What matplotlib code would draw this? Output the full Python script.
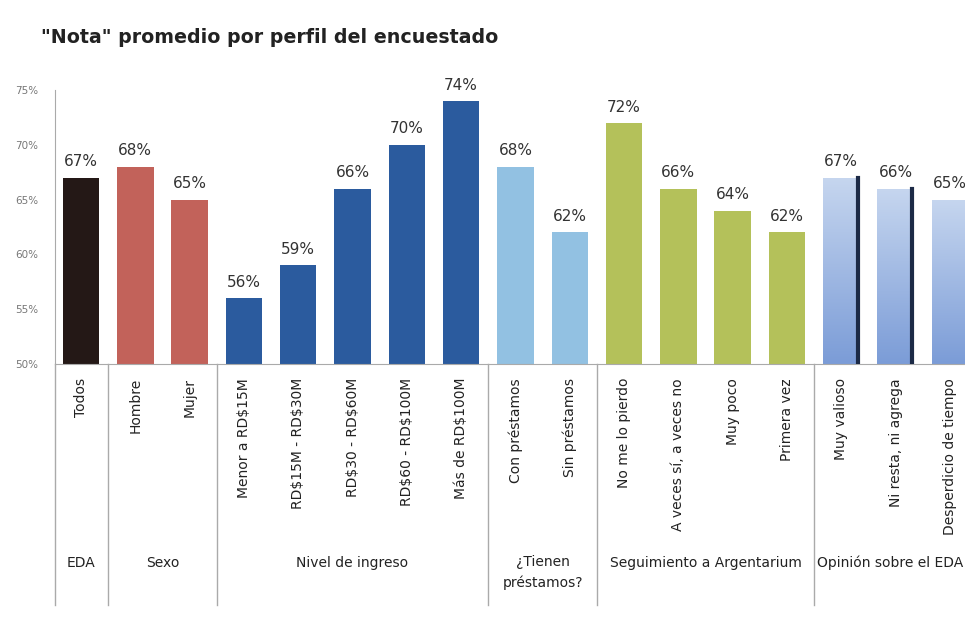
import numpy as np
import matplotlib
matplotlib.use("Agg")
import matplotlib.pyplot as plt
import matplotlib.transforms as mtransforms

plt.rcParams["text.parse_math"] = False

# data
categories = ["Todos", "Hombre", "Mujer",
              "Menor a RD$15M", "RD$15M - RD$30M", "RD$30 - RD$60M", "RD$60 - RD$100M", "Más de RD$100M",
              "Con préstamos", "Sin préstamos",
              "No me lo pierdo", "A veces sí, a veces no", "Muy poco", "Primera vez",
              "Muy valioso", "Ni resta, ni agrega", "Desperdicio de tiempo"]
values = [67, 68, 65, 56, 59, 66, 70, 74, 68, 62, 72, 66, 64, 62, 67, 66, 65]
groups = ["EDA", "Sexo", "Nivel de ingreso", "¿Tienen\npréstamos?",
          "Seguimiento a Argentarium", "Opinión sobre el EDA"]
group_sizes = [1, 2, 5, 2, 4, 3]
group_colors = ["#241816", "#c2625a", "#2b5b9e", "#92c1e2", "#b4c15a", None]

fig = plt.figure(figsize=(9.65, 6.26), dpi=100)
ax = fig.add_axes([0.057, 0.4185, 0.943, 0.4377])

x = np.arange(len(categories))
colors = []
for g, n in enumerate(group_sizes):
    colors += [group_colors[g]] * n

width = 0.67
bars = ax.bar(x, [v - 50 for v in values], bottom=50, width=width,
              color=[c if c else "none" for c in colors], zorder=2)

# gradient bars for the last group (light at top, darker blue at bottom)
grad = np.linspace(0, 1, 256).reshape(-1, 1)
cmap = matplotlib.colors.LinearSegmentedColormap.from_list("g", ["#c6d6ef", "#7b9cd7"])
for b, c in zip(bars, colors):
    if c is None:
        x0 = b.get_x()
        x1 = x0 + b.get_width()
        top = b.get_y() + b.get_height()
        im = ax.imshow(grad, extent=[x0, x1, 50, top], aspect="auto", cmap=cmap, zorder=2)
        im.set_clip_path(b)
        ax.plot([x1 - 0.03, x1 - 0.03], [50, top], color="#1c2a46", lw=3, zorder=3)

for xi, v in zip(x, values):
    ax.annotate(f"{v}%", (xi, v), xytext=(0, 6), textcoords="offset points",
                ha="center", va="bottom", fontsize=11, color="#333333")

ax.set_ylim(50, 75)
ax.set_xlim(-0.48, 16.28)
ax.set_yticks(range(50, 76, 5))
ax.set_yticklabels([f"{t}%" for t in range(50, 76, 5)], fontsize=7.5, color="#777777")
ax.set_xticks(x)
ax.set_xticklabels(categories, rotation=90, fontsize=10, color="#222222")
ax.tick_params(axis="both", length=0)
ax.tick_params(axis="x", pad=10)
ax.tick_params(axis="y", pad=12)
for s in ["top", "right"]:
    ax.spines[s].set_visible(False)
ax.spines["left"].set_color("#aaaaaa")
ax.spines["bottom"].set_color("#aaaaaa")

# group separators and labels below the axis
trans = mtransforms.blended_transform_factory(ax.transData, ax.transAxes)
ax.plot([-0.48, -0.48], [0, -0.88], transform=trans, color="#aaaaaa", lw=1, clip_on=False)
start = 0
for g, n in enumerate(group_sizes):
    end = start + n
    sep = end - 0.5
    last = g == len(group_sizes) - 1
    if not last:
        ax.plot([sep, sep], [0, -0.88], transform=trans, color="#aaaaaa", lw=1, clip_on=False)
    center = (start + end - 1) / 2
    ypos = -0.76 if "\n" in groups[g] else -0.726
    if last:
        ax.text(start - 0.45, ypos, groups[g], transform=trans, ha="left", va="center",
                fontsize=10, color="#222222", clip_on=False)
    else:
        ax.text(center, ypos, groups[g], transform=trans, ha="center", va="center",
                fontsize=10, color="#222222", clip_on=False, linespacing=1.6)
    start = end

fig.text(0.042, 0.94, "\"Nota\" promedio por perfil del encuestado", fontsize=13.7,
         fontweight="bold", color="#222222", ha="left", va="center")

fig.savefig("out.png", dpi=100)
